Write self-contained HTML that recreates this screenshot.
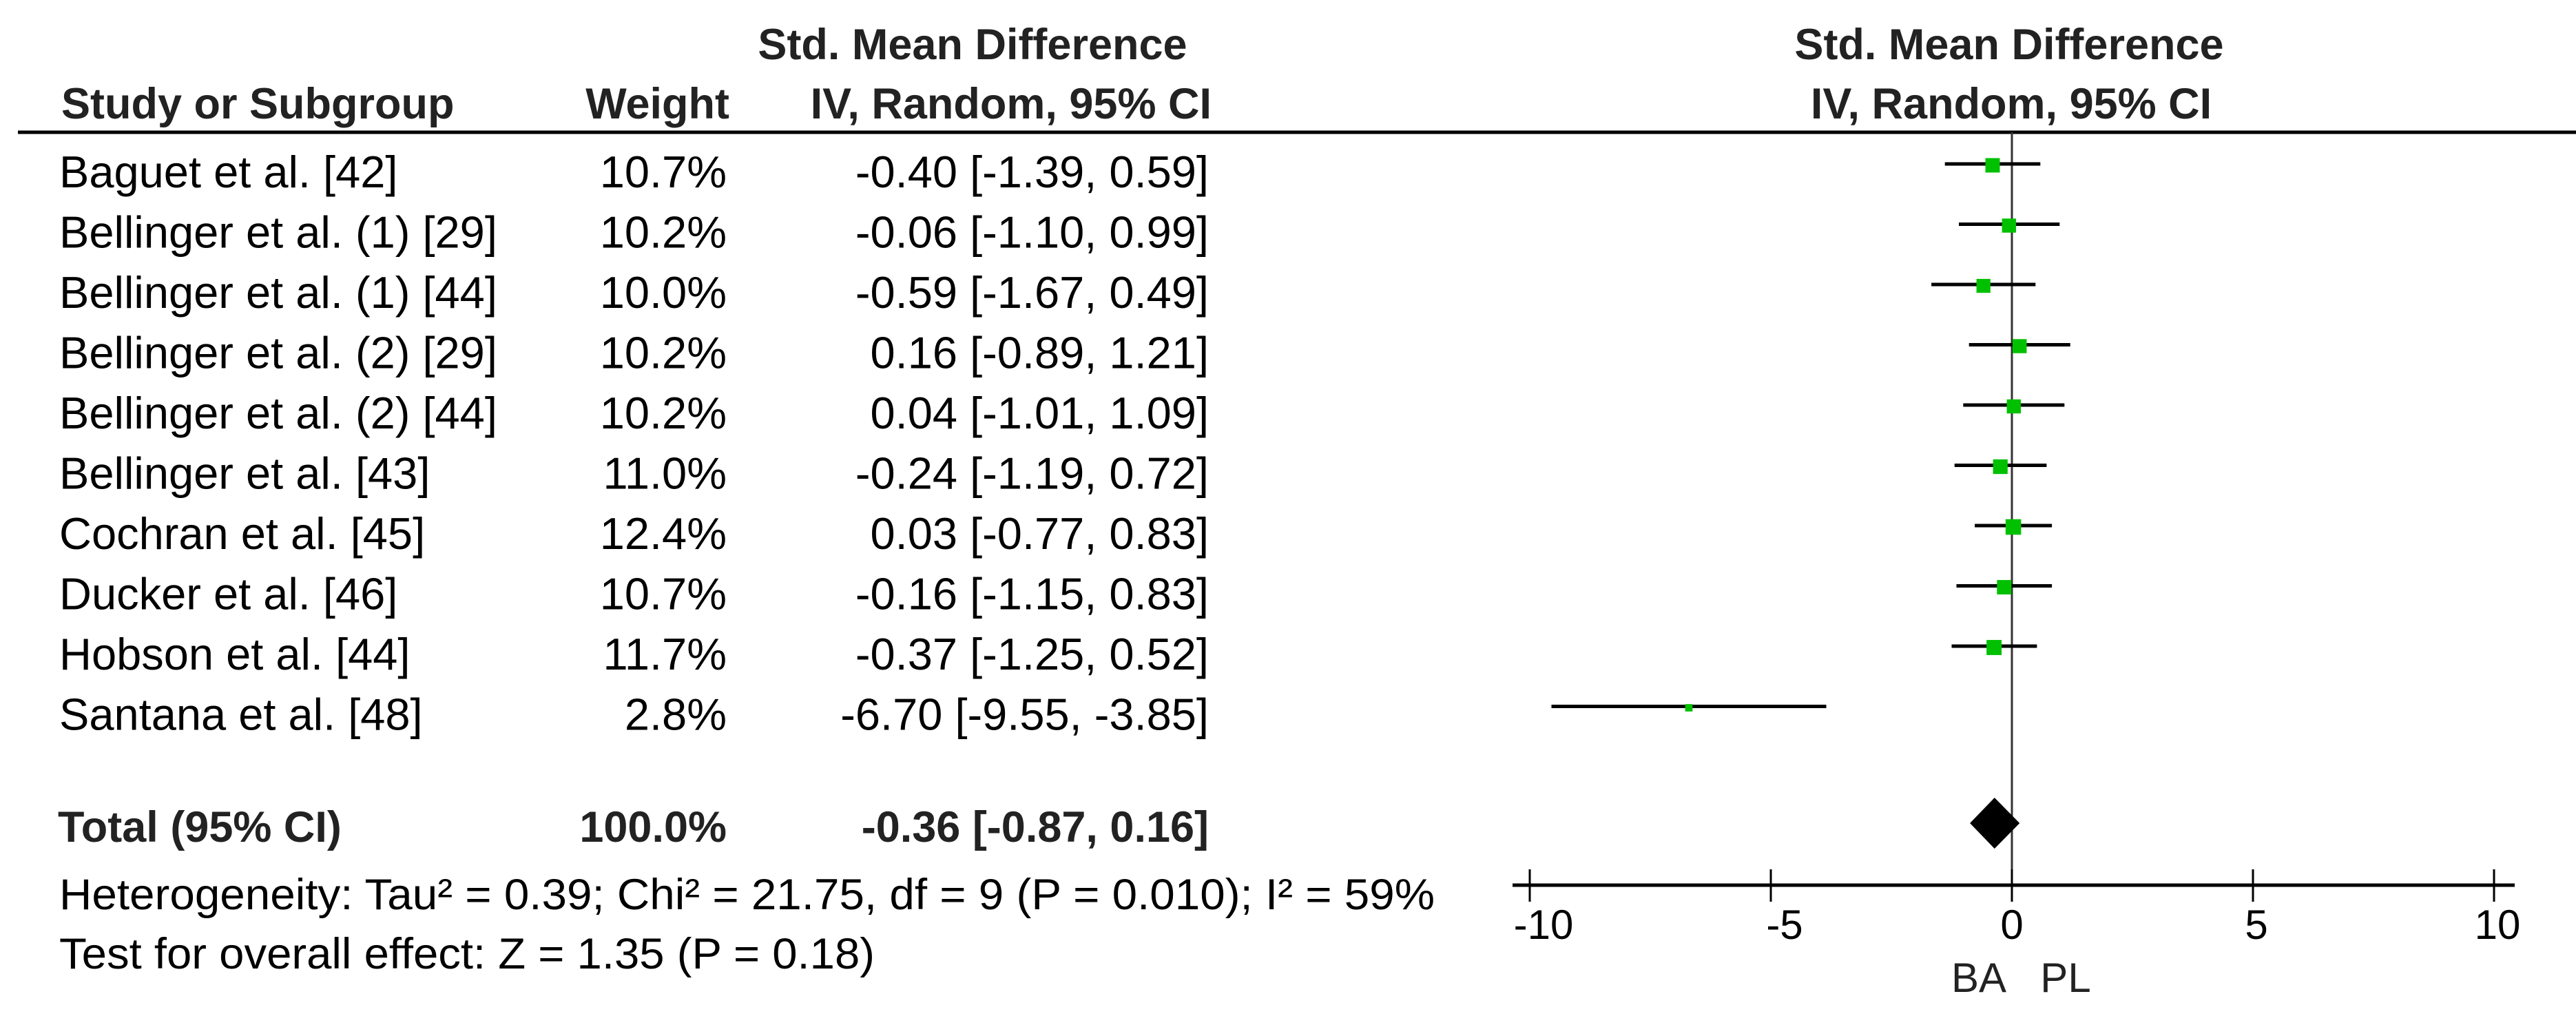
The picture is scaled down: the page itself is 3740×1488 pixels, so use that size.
<!DOCTYPE html>
<html><head><meta charset="utf-8"><style>
html,body{margin:0;padding:0;background:#fff;}
svg{display:block;font-family:"Liberation Sans",Arial,sans-serif;}
</style></head><body>
<svg id="chart" width="3740" height="1488" viewBox="0 0 3740 1488" xmlns="http://www.w3.org/2000/svg">
<rect width="3740" height="1488" fill="#fff"/>
<g fill="#222" font-weight="bold" font-size="63">
<text x="1412" y="86" text-anchor="middle">Std. Mean Difference</text>
<text x="89" y="172">Study or Subgroup</text>
<text x="1059" y="172" text-anchor="end">Weight</text>
<text x="1759" y="172" text-anchor="end">IV, Random, 95% CI</text>
<text x="2917" y="86" text-anchor="middle">Std. Mean Difference</text>
<text x="2920" y="172" text-anchor="middle">IV, Random, 95% CI</text>
</g>
<line x1="26" y1="192" x2="3740" y2="192" stroke="#000" stroke-width="5"/>
<g id="rows"></g>
<g id="plot"></g>
<g fill="#000" font-size="63">
<text x="86" y="1320" textLength="1997" lengthAdjust="spacingAndGlyphs">Heterogeneity: Tau² = 0.39; Chi² = 21.75, df = 9 (P = 0.010); I² = 59%</text>
<text x="86" y="1406" textLength="1184" lengthAdjust="spacingAndGlyphs">Test for overall effect: Z = 1.35 (P = 0.18)</text>
</g>
</svg>
<script>
const studies = ["Baguet et al. [42]","Bellinger et al. (1) [29]","Bellinger et al. (1) [44]","Bellinger et al. (2) [29]","Bellinger et al. (2) [44]","Bellinger et al. [43]","Cochran et al. [45]","Ducker et al. [46]","Hobson et al. [44]","Santana et al. [48]"];
const weights = [10.7,10.2,10.0,10.2,10.2,11.0,12.4,10.7,11.7,2.8];
const means = [-0.40,-0.06,-0.59,0.16,0.04,-0.24,0.03,-0.16,-0.37,-6.70];
const lowers = [-1.39,-1.10,-1.67,-0.89,-1.01,-1.19,-0.77,-1.15,-1.25,-9.55];
const uppers = [0.59,0.99,0.49,1.21,1.09,0.72,0.83,0.83,0.52,-3.85];
const totalMean = -0.36, totalLow = -0.87, totalHigh = 0.16, totalWeight = 100.0;
const ticks = [-10,-5,0,5,10];
const axisLabels = ["BA","PL"];

const NS="http://www.w3.org/2000/svg";
const xs = v => 2921 + v*70;
const ys = i => 238 + i*87.5;
const fmt = v => (v<0?"-":"")+Math.abs(v).toFixed(2);
function mk(tag, attrs, parent){const e=document.createElementNS(NS,tag);for(const k in attrs)e.setAttribute(k,attrs[k]);parent.appendChild(e);return e;}
const rows=document.getElementById('rows'), plot=document.getElementById('plot');

let z=mk('line',{x1:xs(0),y1:192,x2:xs(0),y2:1285,stroke:'#333','stroke-width':3},plot);



studies.forEach((s,i)=>{
  const y=ys(i);
  let t=mk('text',{x:86,y:y+34,'font-size':65,fill:'#000'},rows); t.textContent=s;
  
  
  let w=mk('text',{x:1055,y:y+34,'font-size':65,fill:'#000','text-anchor':'end'},rows); w.textContent=weights[i].toFixed(1)+"%";
  
  
  let c=mk('text',{x:1755,y:y+34,'font-size':65,fill:'#000','text-anchor':'end'},rows);
  c.textContent=fmt(means[i])+" ["+fmt(lowers[i])+", "+fmt(uppers[i])+"]";
  
  
  let l=mk('line',{x1:xs(lowers[i]),y1:y,x2:xs(uppers[i]),y2:y,stroke:'#000','stroke-width':5},plot);
  
  
  const sz=Math.sqrt(weights[i])*6.4;
  let r=mk('rect',{x:xs(means[i])-sz/2,y:y-sz/2+2,width:sz,height:sz,fill:'#00c000'},plot);
  
  
});

let tl=mk('text',{x:84,y:1222,'font-size':63,'font-weight':'bold',fill:'#222'},rows); tl.textContent="Total (95% CI)";


let tw=mk('text',{x:1055,y:1222,'font-size':63,'font-weight':'bold',fill:'#222','text-anchor':'end'},rows); tw.textContent=totalWeight.toFixed(1)+"%";


let tc=mk('text',{x:1755,y:1222,'font-size':63,'font-weight':'bold',fill:'#222','text-anchor':'end'},rows);
tc.textContent=fmt(totalMean)+" ["+fmt(totalLow)+", "+fmt(totalHigh)+"]";


const dy=1195;
let d=mk('polygon',{points:`${xs(totalLow)},${dy} ${xs(totalMean)},${dy-37} ${xs(totalHigh)},${dy} ${xs(totalMean)},${dy+37}`,fill:'#000'},plot);



let ax=mk('line',{x1:xs(ticks[0])-25,y1:1285,x2:xs(ticks[ticks.length-1])+30,y2:1285,stroke:'#000','stroke-width':5},plot);


ticks.forEach(t=>{
  let k=mk('line',{x1:xs(t),y1:1262,x2:xs(t),y2:1309,stroke:'#000','stroke-width':3},plot);
  
  
  let lb=mk('text',{x:xs(t)+(t<0?20:(t>0?5:0)),y:1363,'font-size':60,fill:'#000','text-anchor':'middle'},plot); lb.textContent=String(t);
  
  
});
let b1=mk('text',{x:xs(0)-48,y:1440,'font-size':60,fill:'#222','text-anchor':'middle'},plot); b1.textContent=axisLabels[0];


let b2=mk('text',{x:xs(0)+78,y:1440,'font-size':60,fill:'#222','text-anchor':'middle'},plot); b2.textContent=axisLabels[1];


</script>
</body></html>
